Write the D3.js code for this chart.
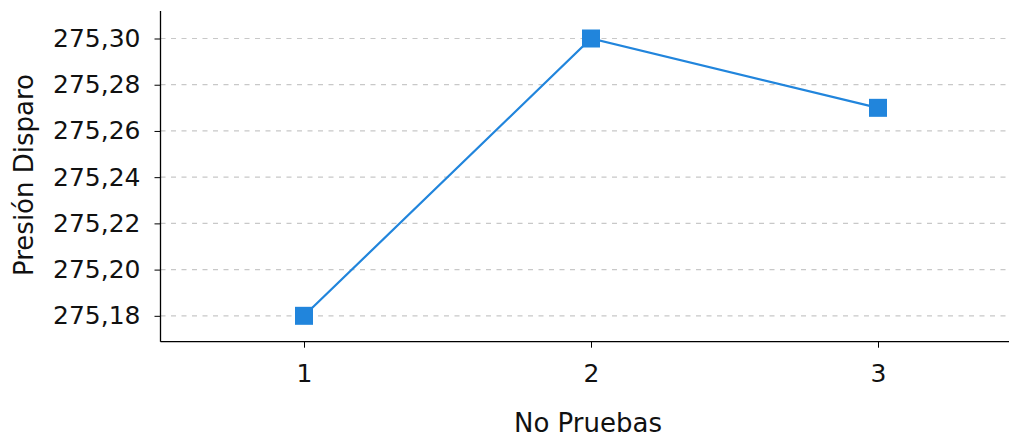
<!DOCTYPE html>
<html><head><meta charset="utf-8">
<script src="https://cdn.jsdelivr.net/npm/d3@7"></script>
<style>
body{margin:0;background:#fff;}
text{font-family:"DejaVu Sans",sans-serif;fill:#111;}
</style></head>
<body>
<svg id="c" width="1009" height="438"></svg>
<script>
const categories = [1, 2, 3];
const values = [275.18, 275.30, 275.27];
const yTicks = [275.18, 275.20, 275.22, 275.24, 275.26, 275.28, 275.30];
const xLabel = "No Pruebas";
const yLabel = "Presión Disparo";

const svg = d3.select("#c");
const mLeft = 160.5, mRight = 1021.5, mTop = 11, mBottom = 341.7;
const x = d3.scaleLinear().domain([0.5, 3.5]).range([mLeft, mRight]);
const y = d3.scaleLinear().domain([275.1688, 275.3119]).range([mBottom, mTop]);
const fmt = d => d3.format(".2f")(d).replace(".", ",");

// grid
svg.append("g").selectAll("line").data(yTicks).join("line")
  .attr("x1", mLeft).attr("x2", mRight)
  .attr("y1", d => y(d)).attr("y2", d => y(d))
  .attr("stroke", "#c8c8c8").attr("stroke-width", 1.2)
  .attr("stroke-dasharray", "5,5.5");

// y axis
const ya = svg.append("g").attr("transform", `translate(${mLeft},0)`)
  .call(d3.axisLeft(y).tickValues(yTicks).tickFormat(fmt).tickSize(6).tickPadding(14));
ya.select(".domain").attr("stroke", "#000").attr("stroke-width", 1.3).attr("d", `M0,${mTop}V${mBottom}`);
ya.selectAll("text").style("font-size", "25px").attr("fill", "#111");

// x axis
const xa = svg.append("g").attr("transform", `translate(0,${mBottom})`)
  .call(d3.axisBottom(x).tickValues(categories).tickFormat(d3.format("d")).tickSize(6).tickPadding(17));
xa.select(".domain").attr("stroke", "#000").attr("stroke-width", 1.3).attr("d", `M${mLeft},0H${mRight}`);
xa.selectAll("text").style("font-size", "25px").attr("fill", "#111");

// line
svg.append("path").datum(values)
  .attr("d", d3.line().x((d, i) => x(categories[i])).y(d => y(d)))
  .attr("fill", "none").attr("stroke", "#2185dc").attr("stroke-width", 2.2);

svg.append("g").selectAll("rect").data(values).join("rect")
  .attr("x", (d, i) => x(categories[i]) - 9).attr("y", d => y(d) - 9)
  .attr("width", 18).attr("height", 18).attr("fill", "#2185dc");

// labels
svg.append("text").attr("x", (mLeft + mRight) / 2 - 3).attr("y", 432)
  .attr("text-anchor", "middle").style("font-size", "26px").text(xLabel);
svg.append("text").attr("transform", "translate(33,175) rotate(-90)")
  .attr("text-anchor", "middle").style("font-size", "26px").text(yLabel);
</script>
</body></html>
